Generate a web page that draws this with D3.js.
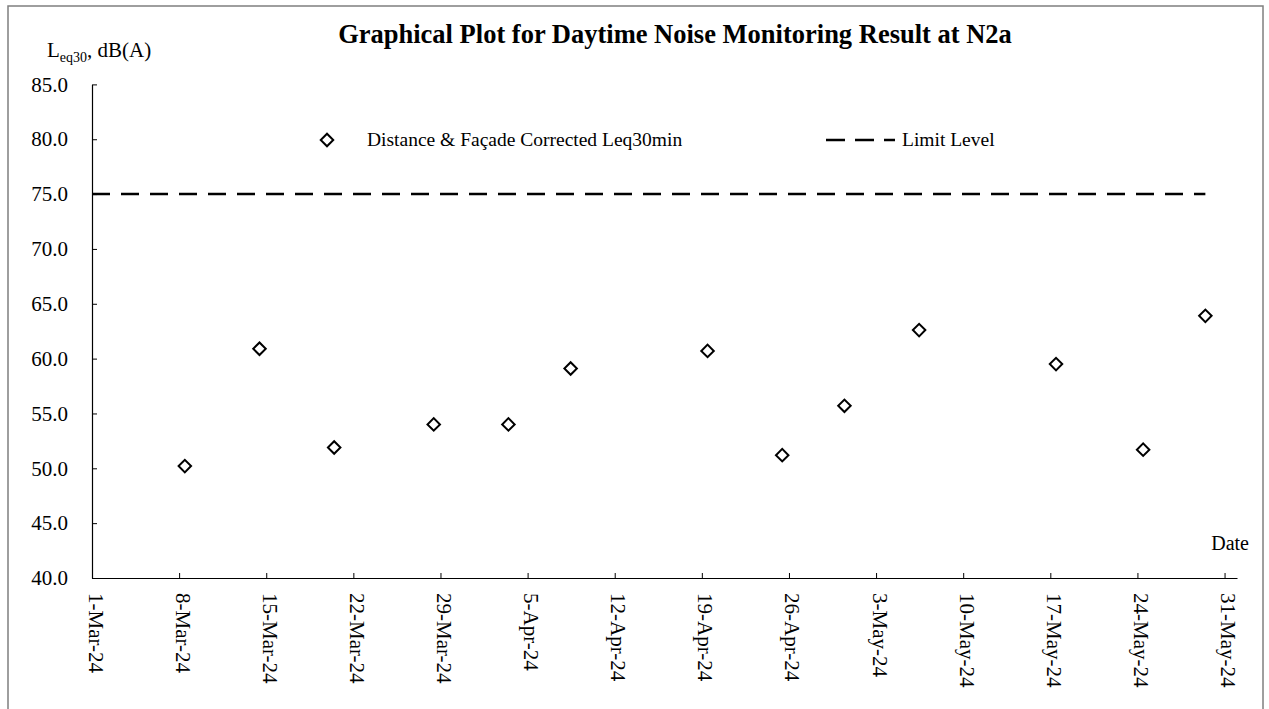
<!DOCTYPE html>
<html>
<head>
<meta charset="utf-8">
<script src="https://cdn.jsdelivr.net/npm/d3@7"></script>
<style>
  body { margin: 0; background: #fff; }
  svg text { font-family: "Liberation Serif", "Times New Roman", serif; fill: #000; }
</style>
</head>
<body>
<div id="chart"></div>
<script>
const sampleDates = ["2024-03-08 11:00", "2024-03-14 11:00", "2024-03-20 11:00", "2024-03-28 11:00",
    "2024-04-03 11:00", "2024-04-08 11:00", "2024-04-19 11:00", "2024-04-25 11:00",
    "2024-04-30 11:00", "2024-05-06 11:00", "2024-05-17 11:00", "2024-05-24 11:00", "2024-05-29 11:00"];
const sampleValues = [50.2, 60.9, 51.9, 54.0, 54.0, 59.1, 60.7, 51.2, 55.7, 62.6, 59.5, 51.7, 63.9];

const limitDates = ["2024-03-01 00:00", "2024-05-29 11:00"];
const limitValues = [75, 75];

const yTicks = [40, 45, 50, 55, 60, 65, 70, 75, 80, 85];
const xDomain = ["2024-03-01 00:00", "2024-06-01 00:00"];

const titleText = "Graphical Plot for Daytime Noise Monitoring Result at N2a";
const seriesName = "Distance & Façade Corrected Leq30min";
const limitName = "Limit Level";

const width = 1269, height = 709;
const plotLeft = 92, plotRight = 1237, plotTop = 84.4, plotBottom = 578;

const parse = d3.timeParse("%Y-%m-%d %H:%M");

let svg = d3.select("#chart").append("svg")
    .attr("width", width)
    .attr("height", height);

// outer frame
svg.append("rect")
    .attr("x", 8).attr("y", 6)
    .attr("width", 1255).attr("height", 712)
    .attr("fill", "none")
    .attr("stroke", "#7f7f7f")
    .attr("stroke-width", 1.5);

let x = d3.scaleTime()
    .domain(xDomain.map(parse))
    .range([plotLeft, plotRight]);

let y = d3.scaleLinear()
    .domain([40, 85])
    .range([plotBottom, plotTop]);

// y axis
let yAxis = svg.append("g")
    .attr("transform", `translate(${plotLeft},0)`)
    .call(d3.axisLeft(y)
        .tickValues(yTicks)
        .tickFormat(d3.format(".1f"))
        .tickSizeInner(-5)
        .tickSizeOuter(0)
        .tickPadding(24));
yAxis.selectAll("text").style("font-size", "21px");

// x axis
let xTicks = d3.timeDay.range(parse(xDomain[0]), parse(xDomain[1]), 7);
let xAxis = svg.append("g")
    .attr("transform", `translate(0,${plotBottom})`)
    .call(d3.axisBottom(x)
        .tickValues(xTicks)
        .tickFormat(d3.timeFormat("%-d-%b-%y"))
        .tickSizeInner(-5)
        .tickSizeOuter(0));
xAxis.selectAll("text")
    .style("font-size", "21px")
    .attr("text-anchor", "start")
    .attr("transform", "rotate(90)")
    .attr("x", 15)
    .attr("y", 4)
    .attr("dy", 0);

svg.selectAll(".domain").attr("stroke", "#000").attr("stroke-width", 1.2);
svg.selectAll(".tick line").attr("stroke", "#000");

// limit line
const limitData = limitDates.map((d, i) => ({date: parse(d), value: limitValues[i]}));
svg.append("path")
    .datum(limitData)
    .attr("fill", "none")
    .attr("stroke", "#000")
    .attr("stroke-width", 2.5)
    .attr("stroke-dasharray", "18,11")
    .attr("d", d3.line().x(d => x(d.date)).y(d => y(d.value)));

// sample points
const samples = sampleDates.map((d, i) => ({date: parse(d), value: sampleValues[i]}));
const diamond = d3.symbol().type(d3.symbolSquare).size(78);
svg.selectAll(".pt")
    .data(samples)
    .enter()
    .append("path")
    .attr("class", "pt")
    .attr("d", diamond)
    .attr("transform", d => `translate(${x(d.date)},${y(d.value)}) rotate(45)`)
    .attr("fill", "#fff")
    .attr("stroke", "#000")
    .attr("stroke-width", 2);

// title
svg.append("text")
    .attr("x", 675)
    .attr("y", 43)
    .attr("text-anchor", "middle")
    .style("font-size", "26.5px")
    .style("font-weight", "bold")
    .text(titleText);

// y axis title
let yTitle = svg.append("text")
    .attr("x", 47)
    .attr("y", 57)
    .style("font-size", "21px");
yTitle.append("tspan").text("L");
yTitle.append("tspan").attr("dy", 5).style("font-size", "14px").text("eq30");
yTitle.append("tspan").attr("dy", -5).text(", dB(A)");

// x axis title
svg.append("text")
    .attr("x", 1249)
    .attr("y", 550)
    .attr("text-anchor", "end")
    .style("font-size", "20px")
    .text("Date");

// legend
svg.append("path")
    .attr("d", diamond)
    .attr("transform", "translate(327,140) rotate(45)")
    .attr("fill", "#fff")
    .attr("stroke", "#000")
    .attr("stroke-width", 2);
svg.append("text")
    .attr("x", 367)
    .attr("y", 146)
    .style("font-size", "19.5px")
    .text(seriesName);

svg.append("line")
    .attr("x1", 826).attr("x2", 895)
    .attr("y1", 140).attr("y2", 140)
    .attr("stroke", "#000")
    .attr("stroke-width", 2.5)
    .attr("stroke-dasharray", "19,10");
svg.append("text")
    .attr("x", 902)
    .attr("y", 146)
    .style("font-size", "19.5px")
    .text(limitName);
</script>
</body>
</html>
